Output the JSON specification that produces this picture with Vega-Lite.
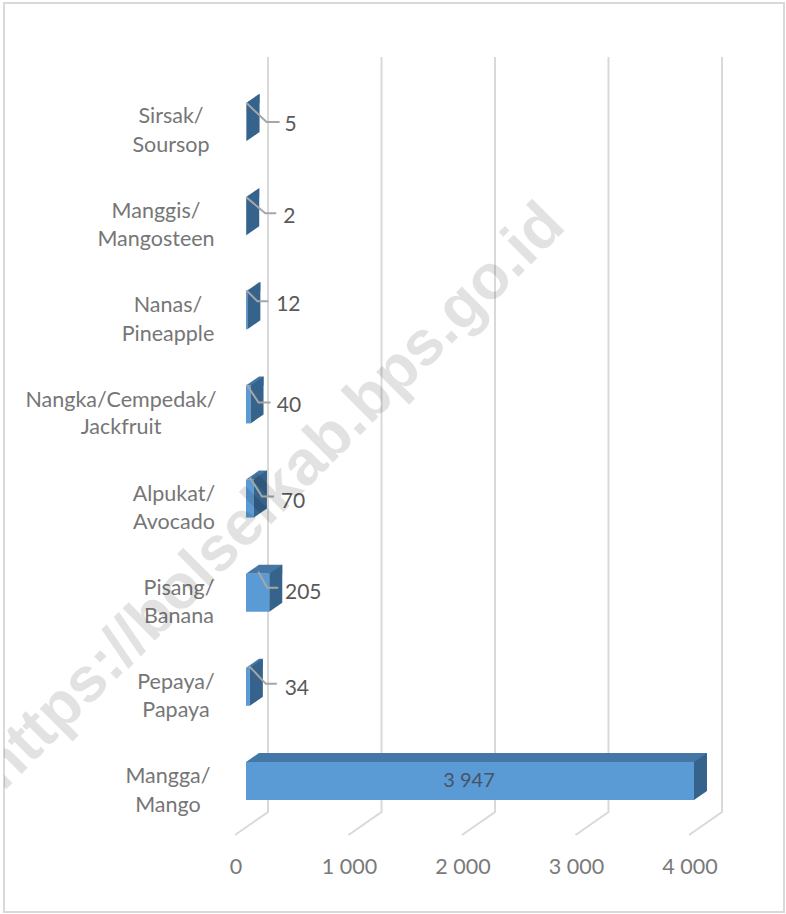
{
"$schema":"https://vega.github.io/schema/vega-lite/v6.json",
"width":780,"height":909,
"padding":{"left":4,"top":3,"right":2,"bottom":2},
"autosize":{"type":"none"},
"background":"white",
"config":{"view":{"stroke":"#d9d9d9","strokeWidth":2},"font":"Lato","axisY":{"disable":true}},
"datasets":{
"rows":[
{"name":"Sirsak/\nSoursop","value":5,"text":"5"},
{"name":"Manggis/\nMangosteen","value":2,"text":"2"},
{"name":"Nanas/\nPineapple","value":12,"text":"12"},
{"name":"Nangka/Cempedak/\nJackfruit","value":40,"text":"40"},
{"name":"Alpukat/\nAvocado","value":70,"text":"70"},
{"name":"Pisang/\nBanana","value":205,"text":"205"},
{"name":"Pepaya/\nPapaya","value":34,"text":"34"},
{"name":"Mangga/\nMango","value":3947,"text":"3 947"}
],
"ticks":[{"v":0},{"v":1000},{"v":2000},{"v":3000},{"v":4000}],
"mark":[{"t":"https://bolselkab.bps.go.id","v":229,"name":"Alpukat/\nAvocado"}]
},
"layer":[
{"data":{"name":"ticks"},
 "mark":{"type":"point","filled":false,"opacity":1,"size":4,"stroke":"#d9d9d9","strokeWidth":2,"shape":"M-11 377.5L22 354.5L22 -400.5"},
 "encoding":{"x":{"field":"v","type":"quantitative","title":null,"scale":{"domain":[0,4000],"range":[242,696],"nice":false,"zero":false},
   "axis":{"title":null,"values":[0,1000,2000,3000,4000],"grid":false,"ticks":false,"domain":false,"offset":-56,"labelPadding":0,"labelOffset":-10.5,"labelFlush":false,"labelOverlap":false,"labelFont":"Lato","labelFontSize":21.5,"labelColor":"#7a7a7a","labelBaseline":"top","labelExpr":"replace(format(datum.value,','),',',' ')"}}}},
{"data":{"name":"rows"},
 "mark":{"type":"bar","size":9,"xOffset":13,"yOffset":-23.5,"color":"#4477a6"},
 "encoding":{"x":{"field":"value","type":"quantitative","title":null},
  "y":{"field":"name","type":"nominal","title":null,
   "scale":{"domain":["Sirsak/\nSoursop","Manggis/\nMangosteen","Nanas/\nPineapple","Nangka/Cempedak/\nJackfruit","Alpukat/\nAvocado","Pisang/\nBanana","Pepaya/\nPapaya","Mangga/\nMango"],"range":[72,825]}}}},
{"data":{"name":"rows"},
 "mark":{"type":"point","filled":true,"opacity":1,"size":4,"color":"#4477a6","shape":"M0 -19L13 -28L13 -19Z"},
 "encoding":{"x":{"datum":0,"type":"quantitative","title":null},"y":{"field":"name","type":"nominal","title":null}}},
{"data":{"name":"rows"},
 "mark":{"type":"bar","size":38,"color":"#5b9bd5"},
 "encoding":{"x":{"field":"value","type":"quantitative","title":null},"y":{"field":"name","type":"nominal","title":null}}},
{"data":{"name":"rows"},
 "mark":{"type":"point","filled":true,"opacity":1,"size":4,"color":"#36638c","shape":"M0 -19L13 -28L13 10L0 19Z"},
 "encoding":{"x":{"field":"value","type":"quantitative","title":null},"y":{"field":"name","type":"nominal","title":null}}},
{"data":{"name":"rows"},
 "transform":[{"filter":"datum.value<1000"}],
 "mark":{"type":"point","filled":false,"opacity":1,"size":4,"stroke":"#a6a6a6","strokeWidth":2},
 "encoding":{"x":{"field":"value","type":"quantitative","title":null},"y":{"field":"name","type":"nominal","title":null},
  "shape":{"field":"name","type":"nominal","legend":null,"scale":{"domain":["Sirsak/\nSoursop","Manggis/\nMangosteen","Nanas/\nPineapple","Nangka/Cempedak/\nJackfruit","Alpukat/\nAvocado","Pisang/\nBanana","Pepaya/\nPapaya"],
   "range":["M0 -19L20 0L33 0","M0 -19L19 -3L30 -3","M-1 -20L10 -9L21 -9","M-4 -20L8 -2L20 -2","M-4 -21L8 -2L20 -2","M-11 -21L-2 -5L9 -5","M-1 -21L16 -3L27 -3"]}}}},
{"data":{"name":"rows"},"transform":[{"filter":"datum.value==5"}],"mark":{"type":"text","font":"Lato","fontSize":21.5,"color":"#767676","lineBreak":"\n","lineHeight":29,"dx":-75,"dy":-5},"encoding":{"x":{"datum":0,"type":"quantitative","title":null},"y":{"field":"name","type":"nominal","title":null},"text":{"field":"name"}}},
{"data":{"name":"rows"},"transform":[{"filter":"datum.value==2"}],"mark":{"type":"text","font":"Lato","fontSize":21.5,"color":"#767676","lineBreak":"\n","lineHeight":28,"dx":-90,"dy":-4},"encoding":{"x":{"datum":0,"type":"quantitative","title":null},"y":{"field":"name","type":"nominal","title":null},"text":{"field":"name"}}},
{"data":{"name":"rows"},"transform":[{"filter":"datum.value==12"}],"mark":{"type":"text","font":"Lato","fontSize":21.5,"color":"#767676","lineBreak":"\n","lineHeight":29,"dx":-78,"dy":-4},"encoding":{"x":{"datum":0,"type":"quantitative","title":null},"y":{"field":"name","type":"nominal","title":null},"text":{"field":"name"}}},
{"data":{"name":"rows"},"transform":[{"filter":"datum.value==40"}],"mark":{"type":"text","font":"Lato","fontSize":21.5,"color":"#767676","lineBreak":"\n","lineHeight":27,"dx":-125,"dy":-3},"encoding":{"x":{"datum":0,"type":"quantitative","title":null},"y":{"field":"name","type":"nominal","title":null},"text":{"field":"name"}}},
{"data":{"name":"rows"},"transform":[{"filter":"datum.value==70"}],"mark":{"type":"text","font":"Lato","fontSize":21.5,"color":"#767676","lineBreak":"\n","lineHeight":28,"dx":-72,"dy":-4},"encoding":{"x":{"datum":0,"type":"quantitative","title":null},"y":{"field":"name","type":"nominal","title":null},"text":{"field":"name"}}},
{"data":{"name":"rows"},"transform":[{"filter":"datum.value==205"}],"mark":{"type":"text","font":"Lato","fontSize":21.5,"color":"#767676","lineBreak":"\n","lineHeight":28,"dx":-67,"dy":-4},"encoding":{"x":{"datum":0,"type":"quantitative","title":null},"y":{"field":"name","type":"nominal","title":null},"text":{"field":"name"}}},
{"data":{"name":"rows"},"transform":[{"filter":"datum.value==34"}],"mark":{"type":"text","font":"Lato","fontSize":21.5,"color":"#767676","lineBreak":"\n","lineHeight":28,"dx":-70,"dy":-4},"encoding":{"x":{"datum":0,"type":"quantitative","title":null},"y":{"field":"name","type":"nominal","title":null},"text":{"field":"name"}}},
{"data":{"name":"rows"},"transform":[{"filter":"datum.value==3947"}],"mark":{"type":"text","font":"Lato","fontSize":21.5,"color":"#767676","lineBreak":"\n","lineHeight":29,"dx":-78,"dy":-4},"encoding":{"x":{"datum":0,"type":"quantitative","title":null},"y":{"field":"name","type":"nominal","title":null},"text":{"field":"name"}}},
{"data":{"name":"rows"},"transform":[{"filter":"datum.value==5"}],"mark":{"type":"text","font":"Lato","fontSize":21,"color":"#595959","dx":44,"dy":3},"encoding":{"x":{"field":"value","type":"quantitative","title":null},"y":{"field":"name","type":"nominal","title":null},"text":{"field":"text"}}},
{"data":{"name":"rows"},"transform":[{"filter":"datum.value==2"}],"mark":{"type":"text","font":"Lato","fontSize":21,"color":"#595959","dx":43,"dy":1},"encoding":{"x":{"field":"value","type":"quantitative","title":null},"y":{"field":"name","type":"nominal","title":null},"text":{"field":"text"}}},
{"data":{"name":"rows"},"transform":[{"filter":"datum.value==12"}],"mark":{"type":"text","font":"Lato","fontSize":21,"color":"#595959","dx":41,"dy":-5},"encoding":{"x":{"field":"value","type":"quantitative","title":null},"y":{"field":"name","type":"nominal","title":null},"text":{"field":"text"}}},
{"data":{"name":"rows"},"transform":[{"filter":"datum.value==40"}],"mark":{"type":"text","font":"Lato","fontSize":21,"color":"#595959","dx":38.5,"dy":2},"encoding":{"x":{"field":"value","type":"quantitative","title":null},"y":{"field":"name","type":"nominal","title":null},"text":{"field":"text"}}},
{"data":{"name":"rows"},"transform":[{"filter":"datum.value==70"}],"mark":{"type":"text","font":"Lato","fontSize":21,"color":"#595959","dx":39,"dy":3},"encoding":{"x":{"field":"value","type":"quantitative","title":null},"y":{"field":"name","type":"nominal","title":null},"text":{"field":"text"}}},
{"data":{"name":"rows"},"transform":[{"filter":"datum.value==205"}],"mark":{"type":"text","font":"Lato","fontSize":21,"color":"#595959","dx":34,"dy":0},"encoding":{"x":{"field":"value","type":"quantitative","title":null},"y":{"field":"name","type":"nominal","title":null},"text":{"field":"text"}}},
{"data":{"name":"rows"},"transform":[{"filter":"datum.value==34"}],"mark":{"type":"text","font":"Lato","fontSize":21,"color":"#595959","dx":47,"dy":2},"encoding":{"x":{"field":"value","type":"quantitative","title":null},"y":{"field":"name","type":"nominal","title":null},"text":{"field":"text"}}},
{"data":{"name":"rows"},"transform":[{"filter":"datum.value==3947"}],"mark":{"type":"text","font":"Lato","fontSize":20,"color":"#44546a","dx":-225,"dy":0},"encoding":{"x":{"field":"value","type":"quantitative","title":null},"y":{"field":"name","type":"nominal","title":null},"text":{"field":"text"}}},
{"data":{"name":"mark"},
 "mark":{"type":"text","font":"Liberation Sans","fontSize":63,"fontWeight":"bold","angle":-45,"color":"#000000","opacity":0.11,"yOffset":-2,"clip":true},
 "encoding":{"x":{"field":"v","type":"quantitative","title":null},"y":{"field":"name","type":"nominal","title":null},"text":{"field":"t"}}}
]
}
